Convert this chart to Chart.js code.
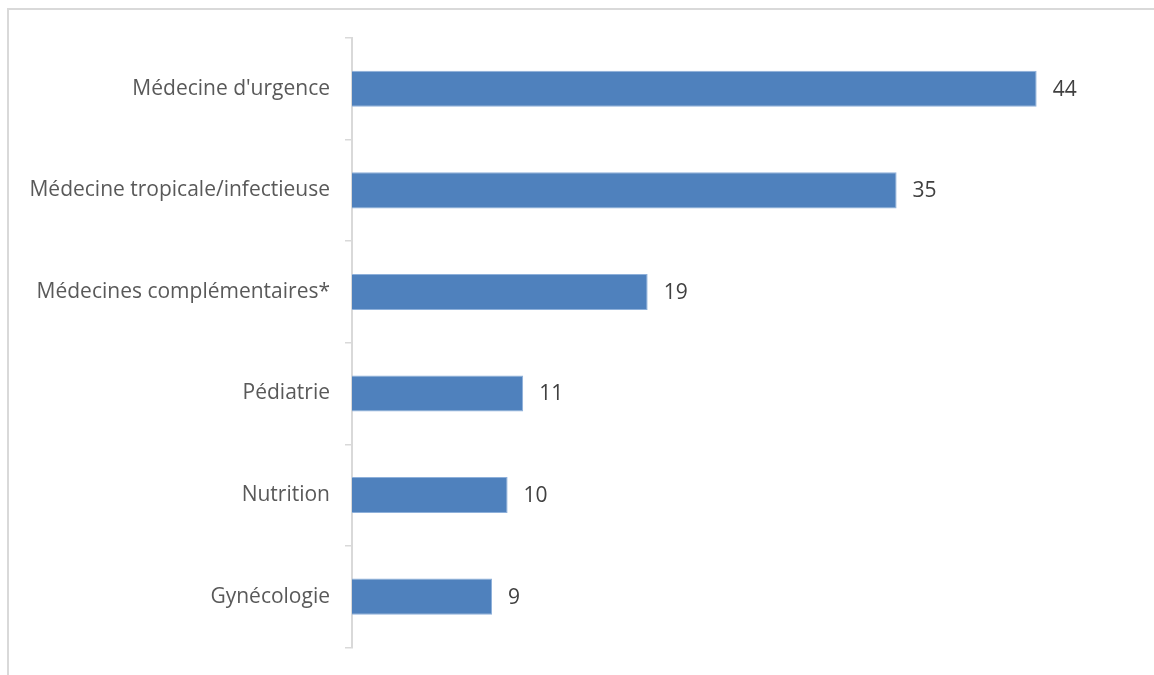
<!DOCTYPE html>
<html>
<head>
<meta charset="utf-8">
<script src="https://cdn.jsdelivr.net/npm/chart.js@4/dist/chart.umd.min.js"></script>
<style>
  html, body { margin: 0; padding: 0; background: #fff; overflow: hidden; }
  #cadre {
    position: absolute; left: 7px; top: 8px; width: 1200px; height: 700px;
    border-top: 2px solid #d9d9d9; border-left: 2px solid #d9d9d9;
  }
  #zone { position: absolute; left: 0; top: 0; width: 1154px; height: 675px; }
</style>
</head>
<body>
<div id="cadre"></div>
<div id="zone"><canvas id="graphique"></canvas></div>
<script>
const categories = [
  "Médecine d'urgence",
  "Médecine tropicale/infectieuse",
  "Médecines complémentaires*",
  "Pédiatrie",
  "Nutrition",
  "Gynécologie"
];
const valeurs = [44, 35, 19, 11, 10, 9];

// etiquettes de valeur au bout des barres
const etiquettesValeurs = {
  id: "etiquettesValeurs",
  afterDatasetsDraw(chart) {
    const ctx = chart.ctx;
    const meta = chart.getDatasetMeta(0);
    ctx.save();
    ctx.font = "21px 'Open Sans'";
    ctx.fillStyle = "#404040";
    ctx.textBaseline = "middle";
    ctx.textAlign = "left";
    meta.data.forEach((barre, i) => {
      ctx.fillText(String(valeurs[i]), barre.x + 16, barre.y + 1);
    });
    ctx.restore();
  }
};

new Chart(document.getElementById("graphique"), {
  type: "bar",
  data: {
    labels: categories,
    datasets: [{
      data: valeurs,
      backgroundColor: "#4f81bd",
      borderColor: "#8eb0da",
      borderWidth: { top: 1, bottom: 1, right: 1, left: 0 },
      borderSkipped: "left",
      categoryPercentage: 1,
      barPercentage: 0.355
    }]
  },
  options: {
    indexAxis: "y",
    responsive: true,
    maintainAspectRatio: false,
    animation: false,
    layout: { padding: { top: 38, bottom: 19, right: 24, left: 0 } },
    plugins: {
      legend: { display: false },
      tooltip: { enabled: false }
    },
    scales: {
      x: {
        display: false,
        min: 0,
        max: 50
      },
      y: {
        afterFit(scale) { scale.width = 352; },
        border: { display: true, color: "#d9d9d9", width: 2 },
        grid: {
          drawOnChartArea: false,
          drawTicks: true,
          tickLength: 7,
          color: "#d9d9d9",
          lineWidth: 1.5
        },
        ticks: {
          color: "#595959",
          padding: 15,
          font: { family: "'Open Sans'", size: 21 }
        }
      }
    }
  },
  plugins: [etiquettesValeurs]
});
</script>
</body>
</html>
